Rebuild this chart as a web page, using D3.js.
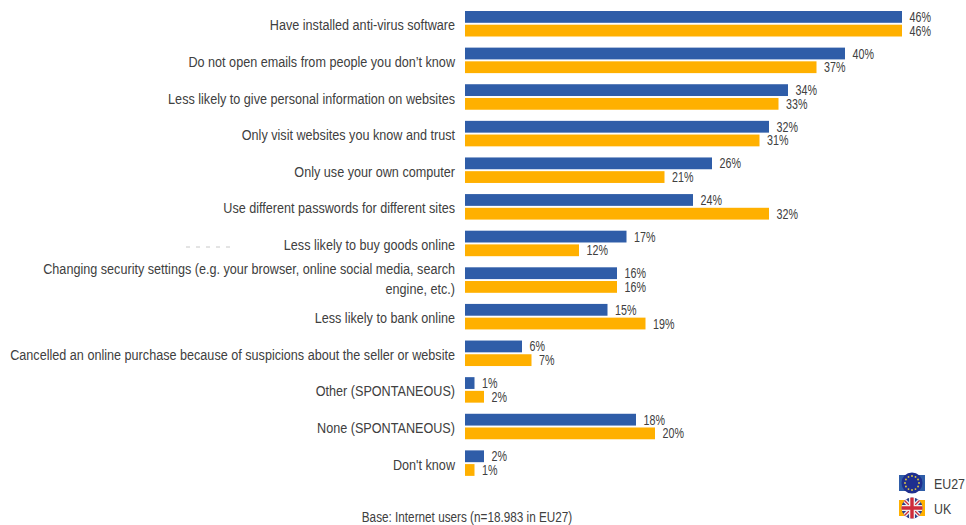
<!DOCTYPE html>
<html>
<head>
<meta charset="utf-8">
<script src="https://cdn.jsdelivr.net/npm/d3@7"></script>
<style>
html,body{margin:0;padding:0;background:#fff;}
svg{display:block;}
text{font-family:"Liberation Sans",Arial,sans-serif;fill:#404040;}
</style>
</head>
<body>
<svg id="chart" width="966" height="525"></svg>
<script>
// Online security behaviours, EU27 against UK
const categories = [
  ["Have installed anti-virus software"],
  ["Do not open emails from people you don\u2019t know"],
  ["Less likely to give personal information on websites"],
  ["Only visit websites you know and trust"],
  ["Only use your own computer"],
  ["Use different passwords for different sites"],
  ["Less likely to buy goods online"],
  ["Changing security settings (e.g. your browser, online social media, search", "engine, etc.)"],
  ["Less likely to bank online"],
  ["Cancelled an online purchase because of suspicions about the seller or website"],
  ["Other (SPONTANEOUS)"],
  ["None (SPONTANEOUS)"],
  ["Don't know"]
];
const eu27 = [46, 40, 34, 32, 26, 24, 17, 16, 15, 6, 1, 18, 2];
const uk = [46, 37, 33, 31, 21, 32, 12, 16, 19, 7, 2, 20, 1];
const seriesNames = ["EU27", "UK"];
const seriesColors = ["#2f5da8", "#ffb000"];
const baseNote = "Base: Internet users (n=18.983 in EU27)";

const svg = d3.select("#chart");
const x = d3.scaleLinear().domain([0, 46]).range([465, 902]);
const row = d3.scaleBand().domain(d3.range(categories.length)).range([5, 481]).paddingInner(0).paddingOuter(0);
const inner = d3.scaleBand().domain([0, 1]).range([6, 31.5]).paddingInner(0.14).paddingOuter(0);

// Condensed lettering: the regular face squeezed horizontally about its anchor
const squeeze = (px, py, k) => `translate(${px},${py}) scale(${k},1)`;

const groups = svg.selectAll("g.row").data(categories).join("g")
  .attr("class", "row")
  .attr("transform", (d, i) => `translate(0,${row(i)})`);

// Category labels, right aligned against the bars
groups.each(function (lines) {
  const g = d3.select(this);
  const mid = row.bandwidth() / 2 + 2;
  const top = lines.length > 1 ? mid - 12.5 : mid;
  g.selectAll("text.cat").data(lines).join("text")
    .attr("class", "cat")
    .attr("transform", (d, j) => squeeze(455, top + j * 20 + 5, 0.815))
    .attr("text-anchor", "end")
    .attr("font-size", 15.5)
    .text(d => d);
});

// One pair of bars per category, each with its value alongside
[eu27, uk].forEach((values, s) => {
  groups.append("rect")
    .attr("x", x(0))
    .attr("y", inner(s))
    .attr("width", (d, i) => x(values[i]) - x(0))
    .attr("height", inner.bandwidth())
    .attr("fill", seriesColors[s]);
  groups.append("text")
    .attr("transform", (d, i) => squeeze(x(values[i]) + 7.5, inner(s) + inner.bandwidth() / 2 + 5, 0.74))
    .attr("font-size", 14.5)
    .text((d, i) => values[i] + "%");
});

// Faint dashes left of the seventh label
svg.append("line")
  .attr("x1", 186).attr("x2", 236)
  .attr("y1", 247).attr("y2", 247)
  .attr("stroke", "#c8c8c8").attr("stroke-dasharray", "4 6");

// Legend: a coloured key behind a round flag
const legend = svg.selectAll("g.legend").data(seriesNames).join("g")
  .attr("class", "legend")
  .attr("transform", (d, i) => `translate(912,${483 + i * 25})`);
legend.append("rect")
  .attr("x", -13).attr("y", -8).attr("width", 26).attr("height", 16)
  .attr("fill", (d, i) => seriesColors[i]);
legend.append("text")
  .attr("transform", squeeze(22, 5.5, 0.8))
  .attr("font-size", 15.5)
  .text(d => d);

// EU flag: ring of stars on a blue disc
const eu = legend.filter((d, i) => i === 0);
eu.append("circle").attr("r", 10.5).attr("fill", "#1f2f8f");
eu.selectAll("circle.star").data(d3.range(12)).join("circle")
  .attr("class", "star")
  .attr("r", 0.9)
  .attr("cx", k => 7 * Math.cos(k * Math.PI / 6))
  .attr("cy", k => 7 * Math.sin(k * Math.PI / 6))
  .attr("fill", "#e8cf40");

// UK flag clipped to a disc
svg.append("clipPath").attr("id", "ukDisc").append("circle").attr("r", 10.5);
const ukFlag = legend.filter((d, i) => i === 1).append("g").attr("clip-path", "url(#ukDisc)");
ukFlag.append("rect").attr("x", -11).attr("y", -11).attr("width", 22).attr("height", 22).attr("fill", "#2b3f8c");
[[-11, -11, 11, 11], [-11, 11, 11, -11]].forEach(p => {
  ukFlag.append("line").attr("x1", p[0]).attr("y1", p[1]).attr("x2", p[2]).attr("y2", p[3])
    .attr("stroke", "#eee").attr("stroke-width", 4);
  ukFlag.append("line").attr("x1", p[0]).attr("y1", p[1]).attr("x2", p[2]).attr("y2", p[3])
    .attr("stroke", "#cf2b3a").attr("stroke-width", 1.3);
});
ukFlag.append("path").attr("d", "M0,-11V11M-11,0H11").attr("stroke", "#eee").attr("stroke-width", 6);
ukFlag.append("path").attr("d", "M0,-11V11M-11,0H11").attr("stroke", "#cf2b3a").attr("stroke-width", 3.4);

// Base note at the foot
svg.append("text")
  .attr("transform", squeeze(467, 522, 0.81))
  .attr("text-anchor", "middle")
  .attr("font-size", 14.5)
  .text(baseNote);
</script>
</body>
</html>
